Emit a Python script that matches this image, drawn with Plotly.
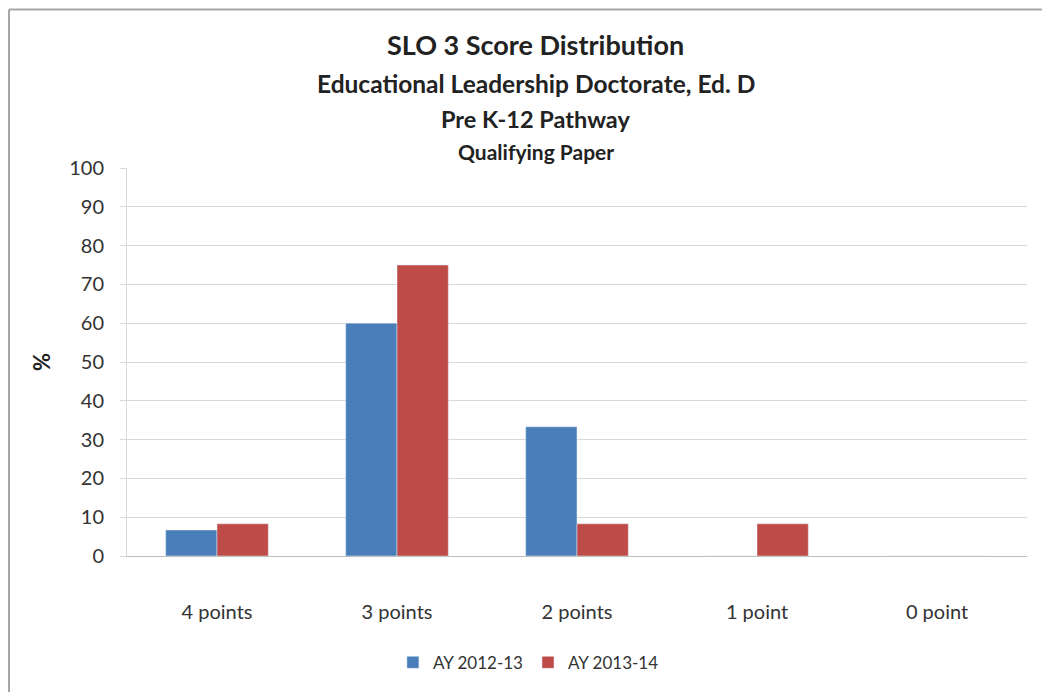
import plotly.graph_objects as go

# data
categories = ["4 points", "3 points", "2 points", "1 point", "0 point"]
ay_2012_13 = [6.7, 60, 33.3, 0, 0]
ay_2013_14 = [8.3, 75, 8.3, 8.3, 0]
y_ticks = list(range(0, 101, 10))

title_lines = ["SLO 3 Score Distribution",
               "Educational Leadership Doctorate, Ed. D",
               "Pre K-12 Pathway",
               "Qualifying Paper"]

font_name = "Lato, Open Sans, sans-serif"

fig = go.Figure()
fig.add_trace(go.Bar(x=categories, y=ay_2012_13, name="AY 2012-13",
                     marker_color="#4a7ebb"))
fig.add_trace(go.Bar(x=categories, y=ay_2013_14, name="AY 2013-14",
                     marker_color="#be4b48"))

# page body has an 8px margin, so the figure is a bit smaller than the window
fig.update_layout(
    width=1042, height=684,
    margin=dict(l=119, r=23, t=160, b=135),
    paper_bgcolor="white", plot_bgcolor="white",
    font=dict(family=font_name, color="#333333"),
    bargap=0.43, bargroupgap=0,
    showlegend=True,
    legend=dict(orientation="h", x=0.446, xanchor="center", y=-0.272, yanchor="middle",
                font=dict(size=17, color="#333333")),
)

fig.update_yaxes(range=[0, 100], tickvals=y_ticks, showgrid=True,
                 gridcolor="#d9d9d9", gridwidth=1, zeroline=False,
                 tickfont=dict(size=20, color="#333333"),
                 ticks="outside", ticklen=6, tickcolor="#d9d9d9",
                 ticklabelstandoff=12,
                 showline=True, linecolor="#d9d9d9",
                 title=dict(text="<b>%</b>", font=dict(size=22, color="#222222"), standoff=12))
fig.update_xaxes(showline=True, linecolor="#bfbfbf", ticks="",
                 tickfont=dict(size=20, color="#333333"),
                 ticklabelstandoff=38)

# stacked title lines, centred on the whole chart rather than the plot area
sizes = [27, 24.5, 23.5, 21]
rows = [44, 83, 119, 151]
for txt, s, r in zip(title_lines, sizes, rows):
    fig.add_annotation(text="<b>" + txt + "</b>", x=0.454, xref="paper",
                       y=(557 - r) / 389, yref="paper", showarrow=False,
                       xanchor="center", yanchor="middle",
                       font=dict(size=s, color="#222222", family=font_name))

# frame of the chart: only top and left edges are visible in the crop
fig.add_shape(type="line", xref="paper", yref="paper",
              x0=-118 / 900, x1=1.1, y0=1 + 159 / 389, y1=1 + 159 / 389,
              line=dict(color="#a6a6a6", width=2))
fig.add_shape(type="line", xref="paper", yref="paper",
              x0=-118 / 900, x1=-118 / 900, y0=-0.5, y1=1 + 159 / 389,
              line=dict(color="#a6a6a6", width=2))

fig.write_html("out.html")
